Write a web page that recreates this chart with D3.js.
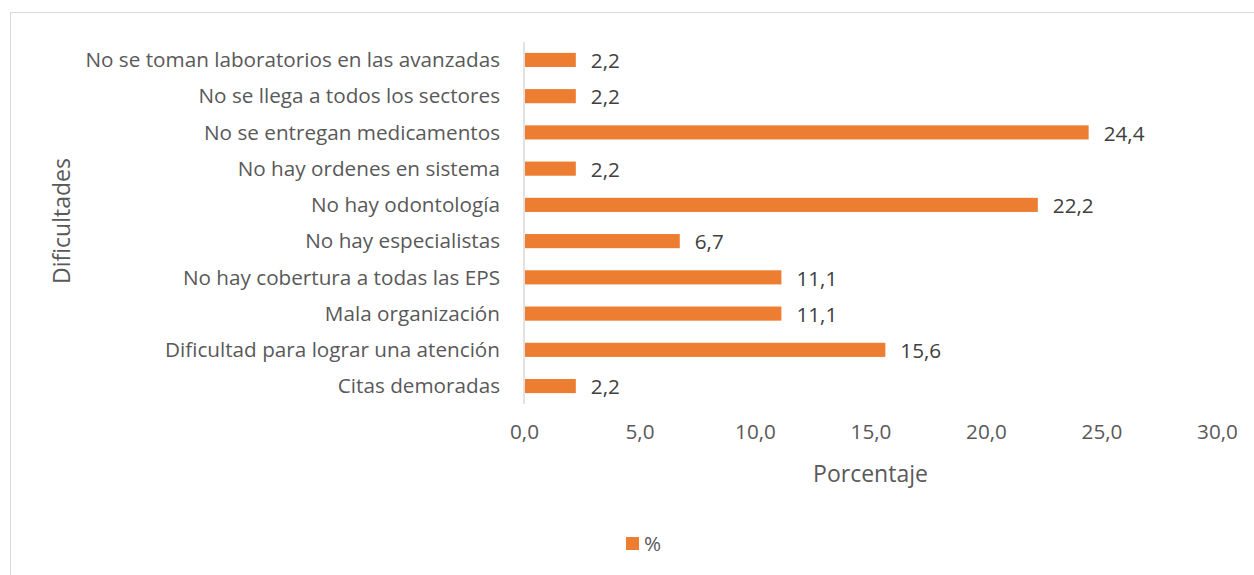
<!DOCTYPE html>
<html lang="es">
<head>
    <meta charset="UTF-8">
    <title>Dificultades</title>
    <script src="https://cdn.jsdelivr.net/npm/d3@7"></script>
    <style>
        html, body {
            margin: 0;
            padding: 0;
            width: 100%;
            height: 100%;
            overflow: hidden;
            background: #ffffff;
        }
        text {
            font-family: "Open Sans", sans-serif;
        }
    </style>
</head>
<body>
<script>
    let width = 1254;
    let height = 575;

    // categorías (de arriba hacia abajo)
    let categories = [
        'No se toman laboratorios en las avanzadas',
        'No se llega a todos los sectores',
        'No se entregan medicamentos',
        'No hay ordenes en sistema',
        'No hay odontología',
        'No hay especialistas',
        'No hay cobertura a todas las EPS',
        'Mala organización',
        'Dificultad para lograr una atención',
        'Citas demoradas'
    ];
    let values = [2.2, 2.2, 24.4, 2.2, 22.2, 6.7, 11.1, 11.1, 15.6, 2.2];
    let ticks = [0, 5, 10, 15, 20, 25, 30];
    let seriesName = '%';

    let barColor = '#ed7d31';
    let fmt = v => d3.format('.1f')(v).replace('.', ',');
    let labelSize = '20.7px';
    let titleSize = '23px';

    let svg = d3.select('body')
        .append('svg')
        .attr('width', width)
        .attr('height', height);

    // borde del gráfico
    svg.append('rect')
        .attr('x', 10.5)
        .attr('y', 12.5)
        .attr('width', width)
        .attr('height', height)
        .attr('fill', 'none')
        .attr('stroke', '#d9d9d9');

    let plot = {left: 524, right: 1217, top: 42, bottom: 404};

    let x = d3.scaleLinear()
        .domain([0, 30])
        .range([plot.left, plot.right]);

    let y = d3.scaleBand()
        .domain(categories)
        .range([plot.top, plot.bottom])
        .paddingInner(0.61)
        .paddingOuter(0.3);

    // eje vertical
    svg.append('line')
        .attr('x1', plot.left)
        .attr('x2', plot.left)
        .attr('y1', plot.top)
        .attr('y2', plot.bottom)
        .attr('stroke', '#d9d9d9')
        .attr('stroke-width', 1.5);

    // barras
    svg.append('g')
        .selectAll('rect')
        .data(values)
        .enter().append('rect')
        .attr('x', x(0) + 1)
        .attr('y', (d, i) => y(categories[i]))
        .attr('width', d => x(d) - x(0))
        .attr('height', y.bandwidth())
        .attr('fill', barColor);

    // etiquetas de datos
    svg.append('g')
        .selectAll('text')
        .data(values)
        .enter().append('text')
        .attr('x', d => x(d) + 16)
        .attr('y', (d, i) => y(categories[i]) + y.bandwidth() / 2 + 1)
        .attr('dy', '0.35em')
        .attr('fill', '#404040')
        .style('font-size', labelSize)
        .text(d => fmt(d));

    // etiquetas de categorías
    svg.append('g')
        .selectAll('text')
        .data(categories)
        .enter().append('text')
        .attr('x', 500)
        .attr('y', d => y(d) + y.bandwidth() / 2)
        .attr('dy', '0.35em')
        .attr('text-anchor', 'end')
        .attr('fill', '#595959')
        .style('font-size', labelSize)
        .text(d => d);

    // eje x
    let xAxis = svg.append('g')
        .attr('transform', `translate(0,${plot.bottom})`)
        .call(d3.axisBottom(x).tickValues(ticks).tickSize(0).tickPadding(20).tickFormat(fmt));
    xAxis.select('.domain').remove();
    xAxis.selectAll('text')
        .attr('fill', '#595959')
        .style('font-size', labelSize)
        .style('font-family', '"Open Sans", sans-serif');

    // títulos de ejes
    svg.append('text')
        .attr('x', (plot.left + plot.right) / 2)
        .attr('y', 482)
        .attr('text-anchor', 'middle')
        .attr('fill', '#595959')
        .style('font-size', titleSize)
        .text('Porcentaje');

    svg.append('text')
        .attr('transform', `translate(70,221) rotate(-90)`)
        .attr('text-anchor', 'middle')
        .attr('fill', '#595959')
        .style('font-size', titleSize)
        .text('Dificultades');

    // leyenda
    let legend = svg.append('g')
        .attr('transform', 'translate(626,537)');
    legend.append('rect')
        .attr('width', 13)
        .attr('height', 13)
        .attr('fill', barColor);
    legend.append('text')
        .attr('x', 18)
        .attr('y', 7)
        .attr('dy', '0.35em')
        .attr('fill', '#595959')
        .style('font-size', labelSize)
        .text(seriesName);
</script>
</body>
</html>
